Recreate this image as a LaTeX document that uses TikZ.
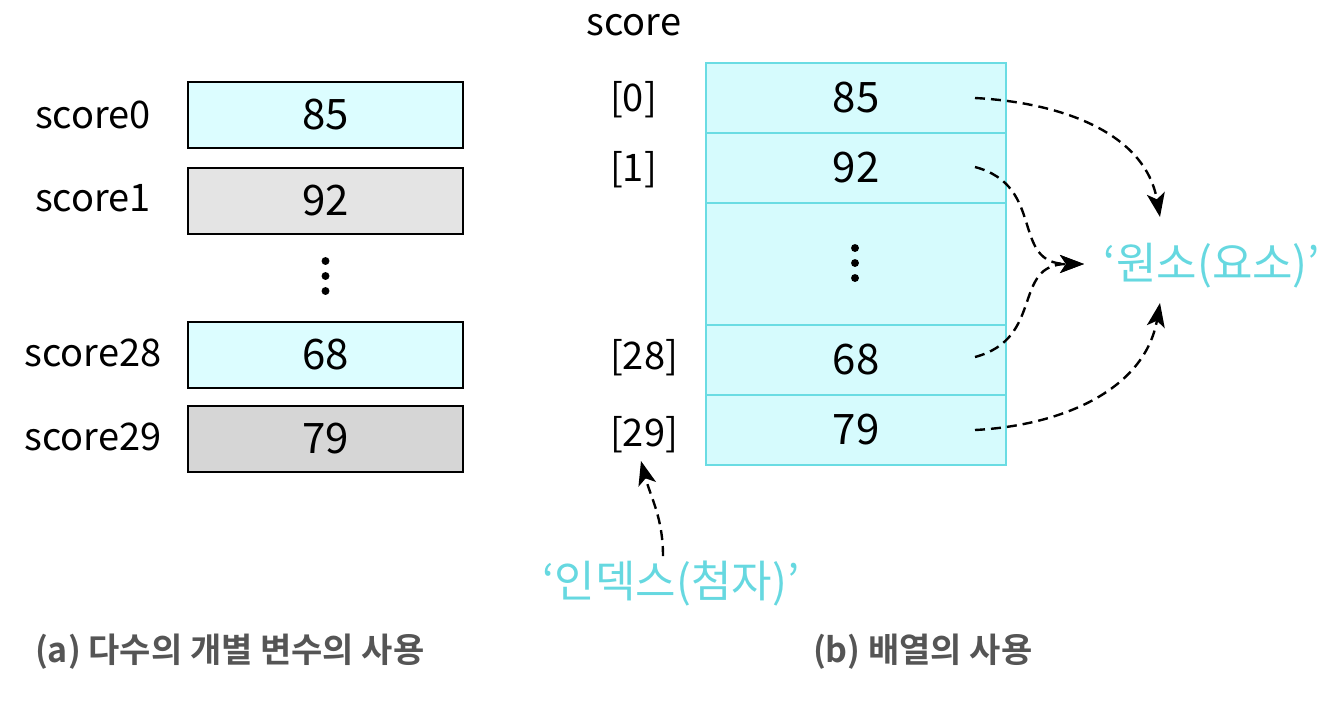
\documentclass[tikz,border=0pt]{standalone}
\usepackage{fontspec}
\setmainfont{Noto Sans CJK KR}
\newfontfamily\capfont{Noto Sans CJK KR Bold}
\usepackage{tikz}
\usetikzlibrary{positioning}
\usetikzlibrary{arrows.meta}
\definecolor{cellcyan}{HTML}{DCFDFF}
\definecolor{cellgray}{HTML}{E4E4E4}
\definecolor{cellgrayd}{HTML}{D6D6D6}
\definecolor{arrfill}{HTML}{D6FBFD}
\definecolor{arrline}{HTML}{6ADCE3}
\definecolor{txtcyan}{HTML}{66D8E0}
\definecolor{capgray}{HTML}{555555}
\tikzset{dot/.style={circle, fill, inner sep=1.4pt}}

\begin{document}
\begin{tikzpicture}
[
x=0.5pt, y=-0.5pt,
v/.style={rectangle, draw=black, line width=1pt, minimum width=137.5pt, minimum height=33pt, inner sep=0pt, font=\fontsize{21}{24}\selectfont},
a/.style={rectangle, draw=arrline, fill=arrfill, line width=0.9pt, minimum width=150pt, minimum height=35pt, inner sep=0pt, outer sep=0pt, font=\fontsize{21}{24}\selectfont},
lbl/.style={font=\fontsize{19}{22}\selectfont},
cy/.style={text=txtcyan, font=\fontsize{22}{26}\selectfont},
captext/.style={text=capgray, font=\capfont\fontsize{17}{20}\selectfont},
dsh/.style={dash pattern=on 5pt off 3pt, line width=1.2pt, -{Stealth[length=12pt,width=9pt,inset=3pt]}}
]
\useasboundingbox (0,0) rectangle (1340,708);

% (a)
\node[v, fill=cellcyan] (v0) at (325.5,115) {85};
\node[v, fill=cellgray] (v1) at (325.5,201) {92};
\node[v, fill=cellcyan] (v28) at (325.5,354.5) {68};
\node[v, fill=cellgrayd] (v29) at (325.5,438.5) {79};
\foreach \y in {261,276,291}
  \node[dot] at (325.5,\y) {};

\node[lbl] (l0) at (93,115) {score0};
\node[lbl] (l1) at (93,198) {score1};
\node[lbl] (l28) at (93,353) {score28};
\node[lbl] (l29) at (93,437) {score29};

% (b)
\node[a] (c0) at (856,98) {85};
\node[a] (c1) [below=0pt of c0] {92};
\node[a, minimum height=61pt] (cd) [below=0pt of c1] {};
\node[a] (c28) [below=0pt of cd] {68};
\node[a] (c29) [below=0pt of c28] {79};
\foreach \y in {248,263,278}
  \node[dot] at (855,\y) {};

\node[lbl] (nm) at (634,25) {score};
\node[lbl, anchor=west] (i0) at (603,100) {[0]};
\node[lbl, anchor=west] (i1) at (603,170) {[1]};
\node[lbl, anchor=west] (i28) at (603,358) {[28]};
\node[lbl, anchor=west] (i29) at (603,435) {[29]};

\node[cy] (elem) at (1212,266) {‘원소(요소)’};
\node[cy] (idx) at (671,584) {‘인덱스(첨자)’};

\coordinate (p0) at (975,98);
\coordinate (p1) at (975,167);
\coordinate (p28) at (975,357);
\coordinate (p29) at (975,430);
\coordinate (t0) at (1160,217);
\coordinate (t1) at (1084,264);
\coordinate (t29) at (1160,303);
\coordinate (q) at (663,556);
\coordinate (tq) at (641,461);

\draw[dsh] (p0) to[out=-3,in=100] (t0);
\draw[dsh] (p1) to[out=-15,in=180,looseness=1.3] (t1);
\draw[dsh] (p28) to[out=15,in=180,looseness=1.3] (t1);
\draw[dsh] (p29) to[out=3,in=-100] (t29);
\draw[dsh] (q) to[out=90,in=-75] (tq);

\node[captext, anchor=west] (capa) at (28,652) {(a) 다수의 개별 변수의 사용};
\node[captext, anchor=west] (capb) at (806,652) {(b) 배열의 사용};
\end{tikzpicture}
\end{document}
